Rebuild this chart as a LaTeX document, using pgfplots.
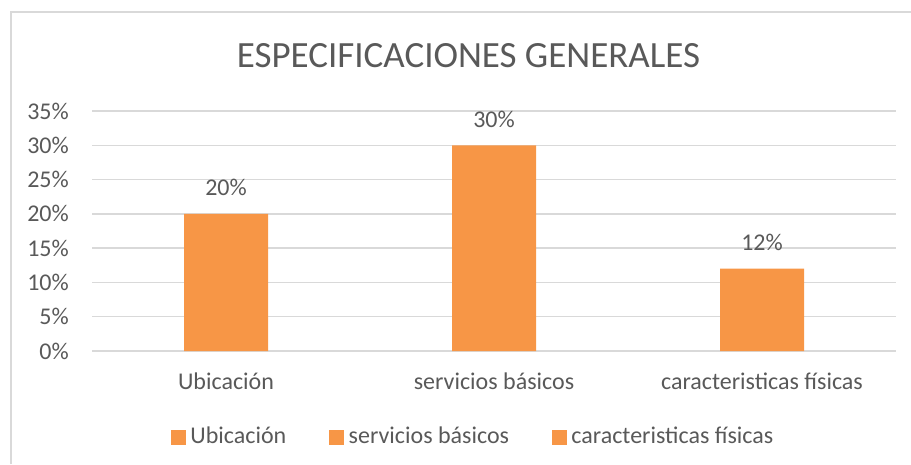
\documentclass[border=0pt]{standalone}
\usepackage{pgfplots}
\pgfplotsset{compat=1.18}
\usepackage{fontspec}
\setmainfont{Carlito}
\definecolor{barc}{HTML}{F79646}
\definecolor{txt}{HTML}{595959}
\definecolor{grd}{HTML}{D9D9D9}
\begin{document}
\begin{tikzpicture}[x=1pt,y=1pt]
\path[use as bounding box] (0,0) rectangle (911,464);
\draw[grd, line width=1.3pt] (11,0) -- (11,452) -- (911,452);
\node[txt, font=\fontsize{37}{44}\selectfont, anchor=base, inner sep=0pt] at (468.5,396) {ESPECIFICACIONES GENERALES};
\begin{axis}[
  at={(92pt,113pt)}, anchor=south west,
  scale only axis, width=804pt, height=240pt,
  xmin=-0.5, xmax=2.5, ymin=0, ymax=35,
  ytick={0,5,...,35},
  yticklabel={\pgfmathprintnumber{\tick}\%},
  xtick={0,1,2},
  xticklabels={Ubicación, servicios básicos, caracteristicas físicas},
  /pgf/number format/assume math mode=true,
  axis line style={draw=none},
  ymajorgrids, grid style={grd, line width=1.3pt},
  major tick length=0pt,
  tick label style={txt, font=\fontsize{24}{29}\selectfont},
  yticklabel style={inner sep=0pt, anchor=east, xshift=-23pt},
  xticklabel style={inner sep=0pt, anchor=base, yshift=-38pt},
  ybar, bar width=84pt, bar shift=0pt,
  nodes near coords={\pgfmathprintnumber{\pgfplotspointmeta}\%},
  every node near coord/.append style={txt, font=\fontsize{24}{29}\selectfont, anchor=base, inner sep=0pt, yshift=18pt},
  legend style={draw=none, fill=none, at={(0.0983,-0.354)}, anchor=west, legend columns=3,
    inner sep=0pt, outer sep=0pt,
    font=\fontsize{24}{29}\selectfont, text=txt,
    nodes={inner sep=0pt, anchor=base},
    /tikz/every odd column/.append style={column sep=5pt},
    /tikz/every even column/.append style={column sep=43pt}},
  legend image code/.code={\fill[barc] (0pt,-1pt) rectangle (14pt,13pt);},
  clip=false,
]
\addplot[fill=barc, draw=none, forget plot] coordinates {(0,20) (1,30) (2,12)};
\addlegendimage{fill=barc}
\addlegendimage{fill=barc}
\addlegendimage{fill=barc}
\legend{Ubicación, servicios básicos, caracteristicas físicas}
\end{axis}
\end{tikzpicture}
\end{document}
